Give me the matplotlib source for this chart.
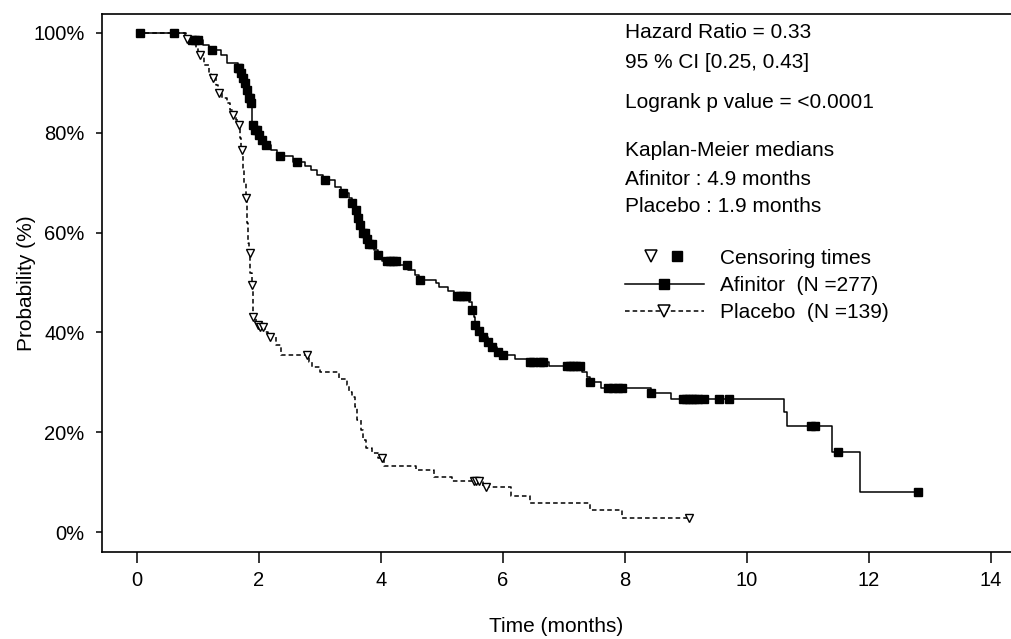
import numpy as np
import matplotlib
matplotlib.use('Agg')
import matplotlib.pyplot as plt
from matplotlib.lines import Line2D
from matplotlib.legend_handler import HandlerTuple

plt.rcParams['font.family'] = ['Liberation Sans', 'DejaVu Sans']

# Afinitor KM steps (time in months, survival in % after the step)
afi_t = [0, 0.78, 0.85, 1.08, 1.18, 1.38, 1.47, 1.65, 1.70, 1.73, 1.76, 1.79, 1.82,
         1.86, 1.88, 1.92, 1.97, 2.03, 2.10, 2.2, 2.3, 2.55, 2.75, 2.85, 2.95, 3.05,
         3.25, 3.35, 3.47, 3.52, 3.57, 3.6, 3.65, 3.7, 3.75, 3.8, 3.88, 3.95, 4.02,
         4.3, 4.45, 4.55, 4.62, 4.9, 4.95, 5.1, 5.2, 5.45, 5.5, 5.52, 5.54, 5.6, 5.67,
         5.75, 5.82, 5.9, 6.0, 6.2, 6.4, 6.75, 7.3, 7.38, 7.42, 7.6, 8.42, 8.75, 10.6,
         10.65, 11.4, 11.86, 12.8]
afi_s = [100, 99.3, 98.5, 97.5, 96.6, 95.6, 94.0, 93.0, 92.0, 91.0, 90.0, 88.5, 87.0,
         86.0, 81.5, 80.5, 79.5, 78.5, 77.5, 76.5, 75.3, 74.2, 73.3, 72.5, 71.5, 70.5,
         69.2, 68.0, 67.0, 66.0, 64.5, 63.0, 61.5, 60.0, 58.8, 57.8, 56.5, 55.5, 54.3,
         53.5, 52.5, 51.5, 50.5, 49.8, 49.0, 48.3, 47.2, 46.0, 44.5, 43.0, 41.5, 40.3,
         39.0, 38.0, 37.0, 36.0, 35.5, 34.7, 34.0, 33.2, 32.0, 31.0, 30.0, 28.9, 27.8,
         26.6, 24.0, 21.3, 16.0, 8.0, 8.0]
afi_cens = [0.05, 0.6, 0.9, 0.95, 1.0, 1.23, 1.66, 1.68, 1.71, 1.74, 1.77, 1.8, 1.83,
            1.85, 1.87, 1.9, 1.93, 1.96, 2.0, 2.05, 2.12, 2.34, 2.62, 3.08, 3.38, 3.52,
            3.59, 3.62, 3.66, 3.7, 3.73, 3.77, 3.8, 3.85, 3.95, 4.1, 4.15, 4.2, 4.25,
            4.43, 4.64, 5.25, 5.3, 5.35, 5.4, 5.5, 5.54, 5.6, 5.67, 5.75, 5.82, 5.92,
            6.0, 6.44, 6.5, 6.6, 6.66, 7.05, 7.1, 7.15, 7.2, 7.26, 7.42, 7.72, 7.8,
            7.88, 7.95, 8.43, 8.95, 9.0, 9.05, 9.1, 9.15, 9.2, 9.3, 9.55, 9.7, 11.05,
            11.12, 11.5, 12.8]

# Placebo KM steps
pla_t = [0, 0.8, 0.97, 1.0, 1.1, 1.18, 1.22, 1.3, 1.33, 1.4, 1.48, 1.52, 1.57, 1.62,
         1.66, 1.69, 1.71, 1.74, 1.76, 1.78, 1.8, 1.82, 1.84, 1.86, 1.88, 1.895, 1.9,
         1.95, 2.0, 2.1, 2.15, 2.28, 2.36, 2.82, 2.87, 3.0, 3.32, 3.45, 3.47, 3.53,
         3.58, 3.6, 3.68, 3.7, 3.76, 3.85, 3.95, 4.05, 4.57, 4.87, 5.17, 5.68, 6.14,
         6.45, 7.43, 7.95, 9.05]
pla_s = [100, 98.8, 97, 95.5, 93.5, 92, 91, 89.5, 88, 87, 86, 84.5, 83.5, 82.5,
         81.5, 79, 76.5, 73, 70, 67, 62, 58, 56, 52, 49.5, 46, 43,
         41.5, 41, 40, 39, 37.5, 35.5, 34, 33, 32, 30.7, 29.5, 28, 27,
         25, 22.5, 20.5, 18.5, 16.8, 15.8, 14.8, 13.2, 12.4, 11.0, 10.3, 9.1, 7.2,
         5.9, 4.5, 2.8, 2.8]
pla_cens = [0.82, 1.03, 1.25, 1.34, 1.57, 1.67, 1.72, 1.79, 1.85, 1.89, 1.9, 1.98,
            2.02, 2.07, 2.18, 2.79, 4.02, 5.52, 5.56, 5.6, 5.73, 9.05]

x_ticks = [0, 2, 4, 6, 8, 10, 12, 14]
y_ticks = [0, 20, 40, 60, 80, 100]

info_lines = [('Hazard Ratio = 0.33', 33), ('95 % CI [0.25, 0.43]', 62),
              ('Logrank p value = <0.0001', 102), ('Kaplan-Meier medians', 151),
              ('Afinitor : 4.9 months', 179), ('Placebo : 1.9 months', 207)]


def at_times(t, s, times):
    # value of the KM step function at given times
    idx = np.searchsorted(t, times, side='right') - 1
    return np.asarray(s)[idx]


W, H = 1011, 639
fig = plt.figure(figsize=(W / 100, H / 100), dpi=100)
ax = fig.add_axes([102 / W, 1 - 552 / H, (W - 102) / W, (552 - 14) / H])

ax.step(afi_t, afi_s, where='post', color='black', lw=1.1)
ax.plot(afi_cens, at_times(afi_t, afi_s, afi_cens), 's', color='black', ms=5.2)

ax.step(pla_t, pla_s, where='post', color='black', lw=1.1, ls=(0, (3, 2)))
ax.plot(pla_cens, at_times(pla_t, pla_s, pla_cens), 'v', mfc='white', mec='black',
        ms=6, mew=1.0)

ax.set_xlim(-0.574, 14.33)
ax.set_ylim(-4.0, 103.8)
ax.set_xticks(x_ticks)
ax.set_yticks(y_ticks)
ax.set_yticklabels(['%d%%' % v for v in y_ticks])
ax.tick_params(axis='x', length=8, width=1.1, pad=6, labelsize=14.5)
ax.tick_params(axis='y', length=4.5, width=1.1, pad=8, labelsize=14.5)
for side in ['left', 'top', 'bottom']:
    ax.spines[side].set_linewidth(1.2)
ax.spines['right'].set_visible(False)

ax.set_xlabel('Time (months)', fontsize=15, va='center')
ax.xaxis.set_label_coords(0.5, -(627 - 552) / 538)
ax.set_ylabel('Probability (%)', fontsize=15)
ax.yaxis.set_label_coords(-0.073, 0.5)

for txt, ypx in info_lines:
    fig.text(625 / W, 1 - ypx / H, txt, fontsize=15, va='center', ha='left')

h_tri = Line2D([], [], marker='v', ls='none', mfc='white', mec='black', ms=9, mew=1.1)
h_sq = Line2D([], [], marker='s', ls='none', color='black', ms=7.5)
h_afi = Line2D([], [], color='black', lw=1.1, marker='s', ms=7.5)
h_pla = Line2D([], [], color='black', lw=1.1, ls=(0, (3, 2)), marker='v', mfc='white',
               mec='black', ms=9, mew=1.1)
leg = ax.legend([(h_tri, h_sq), h_afi, h_pla],
                ['Censoring times', 'Afinitor  (N =277)', 'Placebo  (N =139)'],
                handler_map={tuple: HandlerTuple(ndivide=None, pad=-1.33)},
                loc='upper left', bbox_to_anchor=(610 / W, 1 - 234 / H),
                bbox_transform=fig.transFigure, frameon=False, fontsize=15,
                handlelength=3.8, handletextpad=0.8, labelspacing=0.4,
                borderpad=0.2)

fig.savefig('out.png', dpi=100)
